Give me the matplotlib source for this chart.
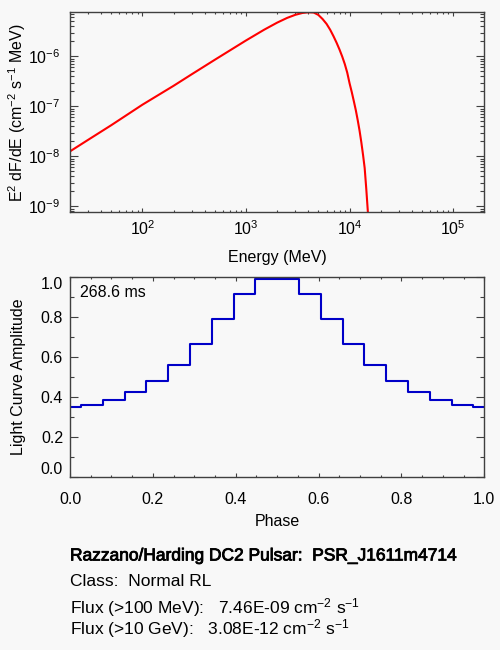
import numpy as np
import matplotlib
matplotlib.use('Agg')
import matplotlib.pyplot as plt
import matplotlib.patheffects as pe
from matplotlib.ticker import LogLocator, NullFormatter, MultipleLocator, FormatStrFormatter

plt.rcParams['font.family'] = ['Liberation Sans', 'DejaVu Sans']
plt.rcParams['mathtext.fontset'] = 'custom'
plt.rcParams['mathtext.rm'] = 'Liberation Sans'
plt.rcParams['mathtext.it'] = 'Liberation Sans:italic'
plt.rcParams['mathtext.bf'] = 'Liberation Sans:bold'

# Spectrum (MeV, E^2 dF/dE)
energy = [20, 30, 50, 100, 200, 300, 500, 1000, 1500, 2000, 2500, 3000,
          3500, 4000, 4500, 5000, 5500, 6000, 6500, 7000, 7500, 8000, 8500,
          9000, 9500, 10000, 10500, 11000, 11500, 12000, 12500, 13000,
          13500, 14000, 14500, 15000, 15500]
flux = [1.26e-8, 2.15e-8, 4.2e-8, 1.08e-7, 2.58e-7, 4.4e-7, 8.55e-7, 2.08e-6,
        3.42e-6, 4.73e-6, 5.89e-6, 6.79e-6, 7.38e-6, 7.62e-6, 7.55e-6,
        6.75e-6, 5.56e-6, 4.46e-6, 3.41e-6, 2.53e-6, 1.87e-6, 1.37e-6,
        9.9e-7, 7.0e-7, 4.73e-7, 2.91e-7, 1.94e-7, 1.27e-7, 8.35e-8,
        5.26e-8, 3.25e-8, 1.9e-8, 1.07e-8, 5.82e-9, 2.26e-9, 8.2e-10, 3e-10]

# Light curve, 20 phase points drawn as a centred histogram
phase = np.arange(20) / 19.0
amp_half = [0.349, 0.359, 0.384, 0.426, 0.482, 0.561, 0.666, 0.791, 0.915, 0.99]
amplitude = amp_half + amp_half[::-1]

period_text = '268.6 ms'
info_lines = [
    'Razzano/Harding DC2 Pulsar:  PSR_J1611m4714',
    'Class:  Normal RL',
    'Flux (>100 MeV):   7.46E-09 cm$^{-2}$ s$^{-1}$',
    'Flux (>10 GeV):   3.08E-12 cm$^{-2}$ s$^{-1}$',
]

bg = '#f8f8f8'
axcol = '#404040'
fs = 11.5

fig = plt.figure(figsize=(5, 6.5), dpi=100, facecolor=bg)
ax1 = fig.add_axes([0.14, 0.6734, 0.8286, 0.3077], facecolor=bg)
ax2 = fig.add_axes([0.14, 0.2662, 0.8286, 0.3072], facecolor=bg)

for ax in (ax1, ax2):
    for s in ax.spines.values():
        s.set_color(axcol)
        s.set_linewidth(1.0)
    ax.tick_params(which='both', direction='in', top=True, right=True,
                   colors=axcol, labelcolor='black', labelsize=fs)
    ax.tick_params(axis='y', which='major', length=5.8, width=0.8, pad=5)
    ax.tick_params(axis='y', which='minor', length=2.9, width=0.8)
    ax.tick_params(axis='x', which='major', length=2.9, width=0.8)
    ax.tick_params(axis='x', which='minor', length=1.5, width=0.8)

# top: spectrum
ax1.plot(energy, flux, color='#ff0000', lw=1.5)
ax1.set_xscale('log')
ax1.set_yscale('log')
ax1.set_xlim(20, 2e5)
fmax = max(flux)
ax1.set_ylim(fmax * 1e-4, fmax)
ax1.xaxis.set_major_locator(LogLocator(base=10, numticks=10))
ax1.xaxis.set_minor_locator(LogLocator(base=10, subs=np.arange(2, 10), numticks=20))
ax1.yaxis.set_major_locator(LogLocator(base=10, numticks=10))
ax1.yaxis.set_minor_locator(LogLocator(base=10, subs=np.arange(2, 10), numticks=20))
ax1.xaxis.set_minor_formatter(NullFormatter())
ax1.yaxis.set_minor_formatter(NullFormatter())
ax1.tick_params(axis='x', which='major', pad=5)
ax1.tick_params(axis='y', which='major', pad=7)
ax1.set_xlabel('Energy (MeV)', fontsize=fs, va='center')
ax1.xaxis.set_label_coords(0.5, -0.227)
ax1.set_ylabel('E$^2$ dF/dE (cm$^{-2}$ s$^{-1}$ MeV)', fontsize=fs, va='center')
ax1.yaxis.set_label_coords(-0.1286, 0.5)

# bottom: light curve
blue = '#0000c8'
ax2.step(phase, amplitude, where='mid', color=blue, lw=1.5)
ax2.plot([0, phase[0]], [amplitude[0]] * 2, color=blue, lw=1.5)
ax2.plot([phase[-1], 1], [amplitude[-1]] * 2, color=blue, lw=1.5)
ax2.set_xlim(0, 1)
ax2.set_ylim(0, 1)
ax2.xaxis.set_major_locator(MultipleLocator(0.2))
ax2.xaxis.set_minor_locator(MultipleLocator(0.05))
ax2.yaxis.set_major_locator(MultipleLocator(0.2))
ax2.yaxis.set_minor_locator(MultipleLocator(0.1))
ax2.xaxis.set_major_formatter(FormatStrFormatter('%.1f'))
ax2.yaxis.set_major_formatter(FormatStrFormatter('%.1f'))
ax2.tick_params(axis='x', which='major', pad=11)
ax2.set_xlabel('Phase', fontsize=fs, va='center')
ax2.xaxis.set_label_coords(0.5, -0.2238)
ax2.set_ylabel('Light Curve Amplitude', fontsize=fs, va='center')
ax2.yaxis.set_label_coords(-0.1248, 0.5)
ax2.text(0.024, 0.923, period_text, transform=ax2.transAxes, fontsize=fs,
         va='center', ha='left')

ys = [0.1446, 0.1051, 0.0657, 0.0334]
for i, (line, y) in enumerate(zip(info_lines, ys)):
    t = fig.text(0.14, y, line, fontsize=12.5, va='center', ha='left')
    if i == 0:
        t.set_path_effects([pe.withStroke(linewidth=0.6, foreground='black')])

# end labels pulled inside the axis range, as in the original
fig.canvas.draw()
for t in ax2.yaxis.get_major_ticks():
    loc = t.get_loc()
    if loc is None:
        continue
    if abs(loc) < 1e-9:
        t.label1.set_va('bottom')
    elif abs(loc - 1) < 1e-9:
        t.label1.set_va('top')

fig.savefig('out.png', dpi=100, facecolor=bg)
